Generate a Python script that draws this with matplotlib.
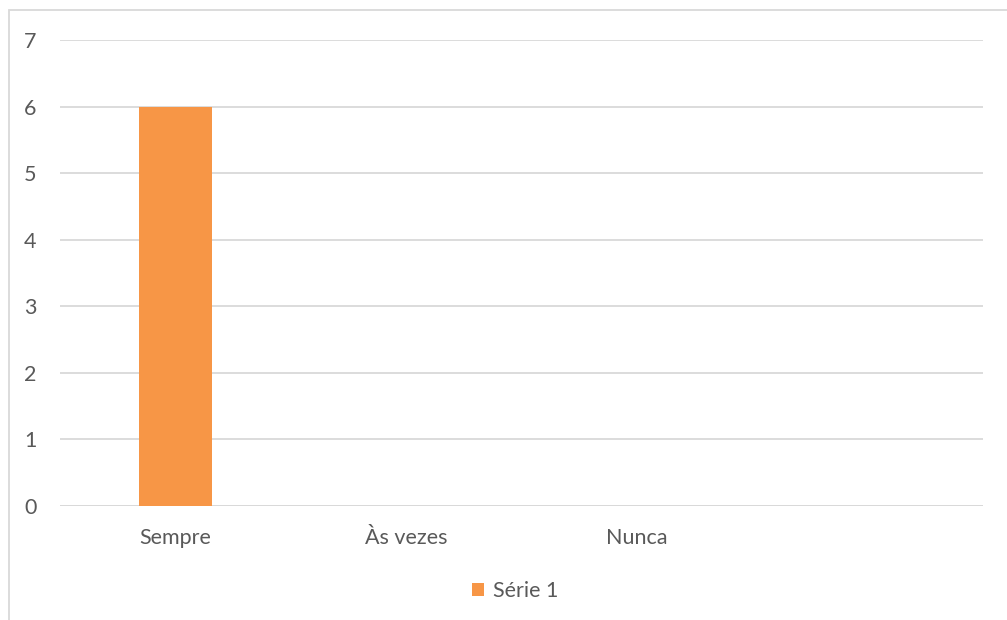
import matplotlib.pyplot as plt
from matplotlib.patches import Rectangle

# 数据
categories = ["Sempre", "Às vezes", "Nunca", ""]
values = [6, 0, 0, 0]
series_name = "Série 1"
y_ticks = [0, 1, 2, 3, 4, 5, 6, 7]

plt.rcParams["font.family"] = ["Lato", "DejaVu Sans"]
text_color = "#595959"
grid_color = "#D9D9D9"
bar_color = "#F79646"

fig = plt.figure(figsize=(10.07, 6.2), dpi=100)
ax = fig.add_axes([60 / 1007, 1 - 506 / 620, (983 - 60) / 1007, (506 - 40) / 620])

x = list(range(len(categories)))
ax.bar(x, values, width=0.317, color=bar_color, linewidth=0, label=series_name, zorder=3)

ax.set_xlim(-0.5, len(categories) - 0.5)
ax.set_ylim(0, 7)
ax.set_yticks(y_ticks)
ax.set_xticks(x)
ax.set_xticklabels(categories)

# 网格线
ax.grid(axis="y", color=grid_color, linewidth=1.3, zorder=0)
for s in ax.spines.values():
    s.set_visible(False)
ax.axhline(0, color=grid_color, linewidth=1.3, zorder=2)
ax.tick_params(axis="both", length=0, colors=text_color, labelsize=15.5)
ax.tick_params(axis="y", pad=17)
ax.tick_params(axis="x", pad=16)

# 图例
fig.legend(
    loc="center",
    bbox_to_anchor=(515 / 1007, 1 - 591 / 620),
    frameon=False,
    fontsize=15.5,
    labelcolor=text_color,
    handlelength=0.6,
    handleheight=0.6,
    handletextpad=0.4,
)

# 图表外框(部分被裁掉)
fig.patches.append(
    Rectangle(
        (8.5 / 1007, -0.1),
        1.2,
        1.1 - 10 / 620,
        transform=fig.transFigure,
        fill=False,
        edgecolor=grid_color,
        linewidth=1.3,
    )
)

plt.savefig("out.png", dpi=100)
plt.close()
